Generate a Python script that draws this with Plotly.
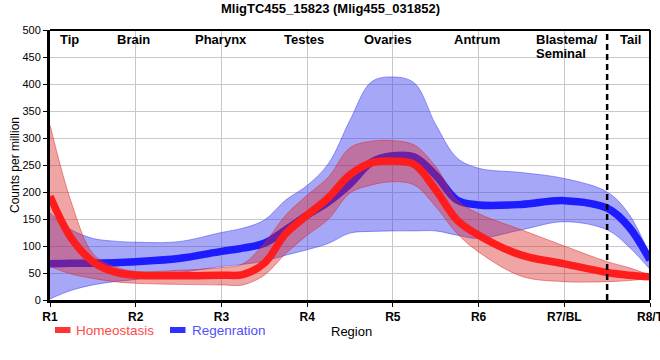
import plotly.graph_objects as go

# ---- data ----
tick_labels = ["R1", "R2", "R3", "R4", "R5", "R6", "R7/BL", "R8/T"]
tick_pos = [1, 2, 3, 4, 5, 6, 7, 8]
positions = [1, 1.25, 1.5, 1.75, 2, 2.5, 3, 3.25, 3.5, 3.75, 4, 4.25, 4.5, 4.75,
             5, 5.25, 5.5, 5.75, 6, 6.5, 7, 7.5, 7.75, 8]

homeostasis = [192, 114, 71, 52, 46, 45, 46, 47, 68, 123, 157, 190, 232, 254,
               257, 251, 204, 148, 120, 83, 67, 51, 46, 43]
homeostasis_hi = [324, 180, 86, 62, 53, 55, 60, 67, 105, 157, 194, 228, 282, 294,
                  295, 287, 247, 185, 160, 130, 100, 71, 60, 46]
homeostasis_lo = [62, 48, 40, 34, 31, 29, 28, 28, 46, 86, 120, 150, 198, 213,
                  219, 213, 173, 123, 89, 44, 34, 34, 36, 40]

regeneration = [67, 68, 68, 69, 71, 77, 90, 96, 105, 130, 157, 182, 215, 255,
                267, 265, 231, 185, 176, 177, 184, 170, 136, 74]
regeneration_hi = [161, 130, 114, 109, 107, 108, 125, 133, 148, 185, 212, 253, 333, 404,
                   413, 402, 325, 263, 244, 236, 225, 200, 160, 82]
regeneration_lo = [2, 18, 28, 34, 38, 50, 62, 66, 72, 83, 93, 105, 124, 127,
                   128, 128, 128, 120, 114, 130, 145, 130, 99, 57]

series_names = ["Homeostasis", "Regenration"]
region_labels = ["Tip", "Brain", "Pharynx", "Testes", "Ovaries", "Antrum", "Blastema/", "Seminal", "Tail"]
boundary = 7.5
title_text = "MligTC455_15823 (Mlig455_031852)"
y_title = "Counts per million"
x_title = "Region"

# ---- styles ----
FONT = "Arial, Liberation Sans, sans-serif"
RED = "rgb(255,28,28)"
BLUE = "rgb(28,28,255)"
RED_BAND = "rgba(220,40,40,0.42)"
BLUE_BAND = "rgba(60,60,240,0.45)"

fig = go.Figure()

def band(lo, hi, fillcol, edgecol):
    fig.add_trace(go.Scatter(x=positions, y=lo, mode="lines", line=dict(color=edgecol, width=1, shape="spline"),
                             showlegend=False, hoverinfo="skip"))
    fig.add_trace(go.Scatter(x=positions, y=hi, mode="lines", line=dict(color=edgecol, width=1, shape="spline"),
                             fill="tonexty", fillcolor=fillcol, showlegend=False, hoverinfo="skip"))

band(regeneration_lo, regeneration_hi, BLUE_BAND, "rgba(60,60,240,0.5)")
fig.add_trace(go.Scatter(x=positions, y=regeneration, mode="lines", name=series_names[1],
                         line=dict(color=BLUE, width=7.5, shape="spline"), showlegend=False))
band(homeostasis_lo, homeostasis_hi, RED_BAND, "rgba(220,40,40,0.5)")
fig.add_trace(go.Scatter(x=positions, y=homeostasis, mode="lines", name=series_names[0],
                         line=dict(color=RED, width=7.5, shape="spline"), showlegend=False))

W, H = 660, 360
L, R, T, B = 50, 10, 30, 60
pw, ph = W - L - R, H - T - B

def px(xp):
    return (xp - L) / pw

def py(yp):
    return (H - B - yp) / ph

annotations = []
# title
annotations.append(dict(x=px(330), y=py(8.5), xref="paper", yref="paper", text="<b>%s</b>" % title_text,
                        showarrow=False, xanchor="center", yanchor="middle",
                        font=dict(family=FONT, size=13, color="black")))
reg_px = [69, 133, 220.5, 304, 387.5, 477, 534, 534, 630.5]
reg_py = [39.5, 39.5, 39.5, 39.5, 39.5, 39.5, 39.5, 53.5, 39.5]
reg_anchor = ["center"] * 6 + ["left", "left", "center"]
for txt, xp, yp, anc in zip(region_labels, reg_px, reg_py, reg_anchor):
    annotations.append(dict(x=px(xp), y=py(yp), xref="paper", yref="paper", text="<b>%s</b>" % txt,
                            showarrow=False, xanchor=anc, yanchor="middle",
                            font=dict(family=FONT, size=13, color="black")))
annotations.append(dict(x=px(15), y=0.5, xref="paper", yref="paper", text=y_title, textangle=-90,
                        showarrow=False, xanchor="center", yanchor="middle",
                        font=dict(family=FONT, size=12, color="black")))
annotations.append(dict(x=px(351), y=py(331.5), xref="paper", yref="paper", text=x_title,
                        showarrow=False, xanchor="center", yanchor="middle",
                        font=dict(family=FONT, size=13, color="black")))
annotations.append(dict(x=px(74), y=py(330.7), xref="paper", yref="paper", text=series_names[0],
                        showarrow=False, xanchor="left", yanchor="middle",
                        font=dict(family=FONT, size=13.5, color="#ff4a4a")))
annotations.append(dict(x=px(189.5), y=py(330.7), xref="paper", yref="paper", text=series_names[1],
                        showarrow=False, xanchor="left", yanchor="middle",
                        font=dict(family=FONT, size=13.5, color="#5050ff")))

shapes = [
    dict(type="rect", xref="paper", yref="paper", x0=px(55), x1=px(70.5), y0=py(333), y1=py(327),
         fillcolor="#ff3535", line=dict(width=0)),
    dict(type="rect", xref="paper", yref="paper", x0=px(170), x1=px(185.5), y0=py(333), y1=py(327),
         fillcolor="#3030ff", line=dict(width=0)),
    dict(type="line", xref="paper", yref="paper", x0=0, x1=1, y0=1, y1=1, line=dict(color="black", width=2)),
    dict(type="line", xref="paper", yref="paper", x0=1, x1=1, y0=0, y1=1, line=dict(color="black", width=2)),
    dict(type="line", xref="x", yref="paper", x0=boundary, x1=boundary, y0=0, y1=1,
         line=dict(color="black", width=2.5, dash="6px,4px")),
]

fig.update_layout(
    width=W, height=H,
    margin=dict(l=L, r=R, t=T, b=B, autoexpand=False),
    paper_bgcolor="white", plot_bgcolor="white",
    showlegend=False,
    annotations=annotations,
    shapes=shapes,
    xaxis=dict(range=[1, 8], tickvals=tick_pos, ticktext=["<b>%s</b>" % t for t in tick_labels],
               showgrid=True, gridcolor="#c8c8c8", gridwidth=1, zeroline=False, automargin=False,
               ticklabeloverflow="allow",
               showline=True, linecolor="black", linewidth=3, ticks="outside", ticklen=4,
               tickcolor="black", tickfont=dict(family=FONT, size=12, color="black")),
    yaxis=dict(range=[0, 500], tickvals=list(range(0, 501, 50)), automargin=False,
               showgrid=True, gridcolor="#c8c8c8", gridwidth=1, zeroline=False,
               showline=True, linecolor="black", linewidth=3, ticks="outside", ticklen=4,
               tickcolor="black", tickfont=dict(family=FONT, size=11, color="black")),
    font=dict(family=FONT),
)

fig.write_html("out.html", config={"displayModeBar": False},
               post_script="document.body.style.margin='0';document.body.style.padding='0';")
